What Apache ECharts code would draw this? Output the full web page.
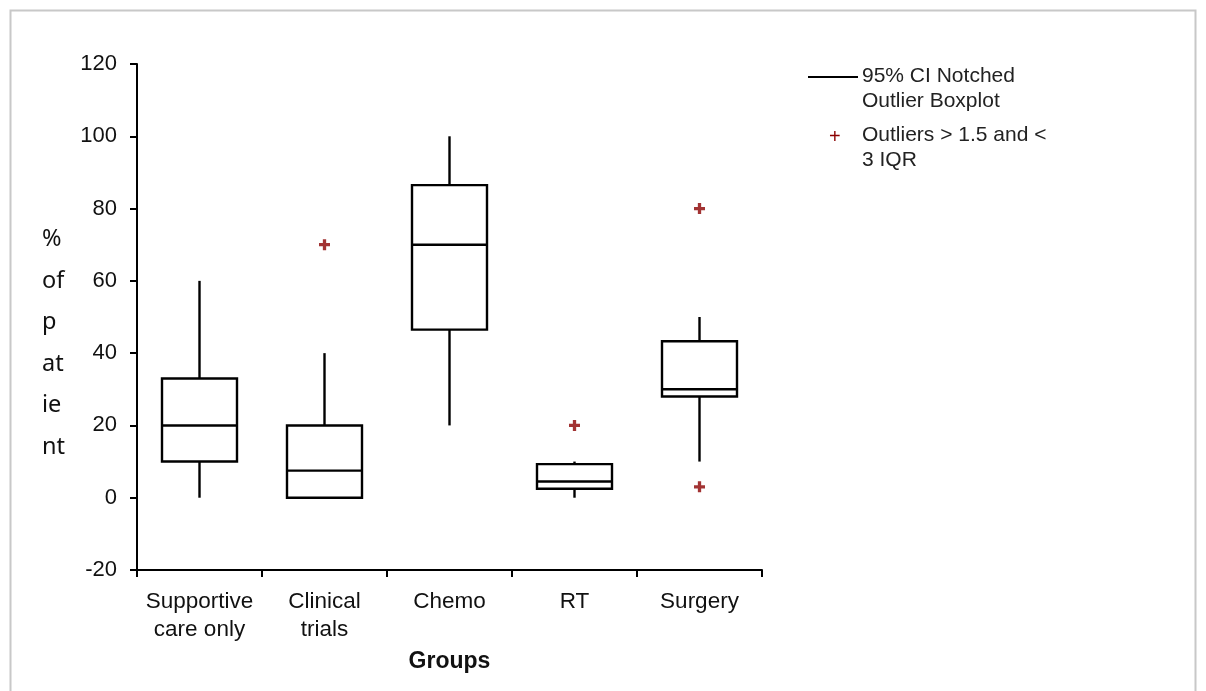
<!DOCTYPE html>
<html><head><meta charset="utf-8">
<script src="https://cdn.jsdelivr.net/npm/echarts@6/dist/echarts.min.js"></script>
<style>html,body{margin:0;padding:0;background:#fff}#c{width:1206px;height:691px}</style>
</head><body><div id="c"></div>
<script>
const categories = ['Supportive\ncare only', 'Clinical\ntrials', 'Chemo', 'RT', 'Surgery'];
const whiskerLow = [0, 0, 20, 0, 10];
const q1 = [10, 0, 46.5, 2.5, 28];
const median = [20, 7.5, 70, 4.5, 30];
const q3 = [33, 20, 86.5, 9.3, 43.3];
const whiskerHigh = [60, 40, 100, 10, 50];
const outliers = [['Clinical\ntrials', 70], ['RT', 20], ['Surgery', 80], ['Surgery', 3]];
const yTicks = { min: -20, max: 120, interval: 20 };

const font = "'Liberation Sans', Arial, sans-serif";
const boxData = categories.map((c, i) => [i, whiskerLow[i], q1[i], median[i], q3[i], whiskerHigh[i]]);

const chart = echarts.init(document.getElementById('c'), null, { renderer: 'canvas' });
chart.setOption({
  animation: false,
  backgroundColor: '#fff',
  grid: { left: 137, right: 444, top: 64, bottom: 121, containLabel: false },
  xAxis: {
    type: 'category', data: categories, boundaryGap: true,
    name: 'Groups', nameLocation: 'middle', nameGap: 80,
    nameTextStyle: { fontFamily: font, fontSize: 23, fontWeight: 'bold', color: '#111' },
    axisLine: { onZero: false, lineStyle: { color: '#000', width: 2 } },
    axisTick: { show: true, length: 7, interval: 0, alignWithLabel: false, lineStyle: { color: '#000', width: 2 } },
    axisLabel: { interval: 0, fontFamily: font, fontSize: 22.5, color: '#111', lineHeight: 28, margin: 18 },
    splitLine: { show: false }
  },
  yAxis: {
    type: 'value', min: yTicks.min, max: yTicks.max, interval: yTicks.interval,
    axisLine: { show: true, lineStyle: { color: '#000', width: 2 } },
    axisTick: { show: true, length: 7, lineStyle: { color: '#000', width: 2 } },
    axisLabel: { fontFamily: font, fontSize: 22, color: '#111', margin: 20 },
    splitLine: { show: false }
  },
  graphic: [
    { type: 'rect', shape: { x: 10.5, y: 10.5, width: 1185, height: 690 }, style: { fill: null, stroke: '#c8c8c8', lineWidth: 2 }, silent: true },
    { type: 'text', left: 42, top: 219, style: { text: '%\nof\np\nat\nie\nnt', font: "23.5px 'Noto Sans', sans-serif", fill: '#111', lineHeight: 41.5 } },
    { type: 'line', shape: { x1: 808, y1: 77, x2: 858, y2: 77 }, style: { stroke: '#000', lineWidth: 2 } },
    { type: 'text', left: 862, top: 64, style: { text: '95% CI Notched\nOutlier Boxplot', font: '21px ' + font, fill: '#222', lineHeight: 25 } },
    { type: 'text', left: 829, top: 127, style: { text: '+', font: '20px ' + font, fill: '#8b0000' } },
    { type: 'text', left: 862, top: 123, style: { text: 'Outliers > 1.5 and <\n3 IQR', font: '21px ' + font, fill: '#222', lineHeight: 25 } }
  ],
  series: [
    {
      type: 'custom',
      data: boxData,
      encode: { x: 0, y: [1, 2, 3, 4, 5] },
      renderItem: function (params, api) {
        const idx = api.value(0);
        const pLow = api.coord([idx, api.value(1)]);
        const pQ1 = api.coord([idx, api.value(2)]);
        const pMed = api.coord([idx, api.value(3)]);
        const pQ3 = api.coord([idx, api.value(4)]);
        const pHigh = api.coord([idx, api.value(5)]);
        const bw = api.size([1, 0])[0] * 0.6;
        const x0 = pQ1[0] - bw / 2, x1 = pQ1[0] + bw / 2;
        const st = { stroke: '#000', lineWidth: 2.4, fill: null };
        return {
          type: 'group',
          children: [
            { type: 'line', shape: { x1: pQ3[0], y1: pQ3[1], x2: pHigh[0], y2: pHigh[1] }, style: st },
            { type: 'line', shape: { x1: pQ1[0], y1: pQ1[1], x2: pLow[0], y2: pLow[1] }, style: st },
            { type: 'rect', shape: { x: x0, y: pQ3[1], width: bw, height: pQ1[1] - pQ3[1] }, style: { stroke: '#000', lineWidth: 2.4, fill: '#fff' } },
            { type: 'line', shape: { x1: x0, y1: pMed[1], x2: x1, y2: pMed[1] }, style: st }
          ]
        };
      }
    },
    {
      type: 'scatter',
      data: outliers,
      symbol: 'path://M3.5,0 L6.5,0 L6.5,3.5 L10,3.5 L10,6.5 L6.5,6.5 L6.5,10 L3.5,10 L3.5,6.5 L0,6.5 L0,3.5 L3.5,3.5 Z',
      symbolSize: 11,
      itemStyle: { color: '#8b0000' }
    }
  ]
});
</script></body></html>
